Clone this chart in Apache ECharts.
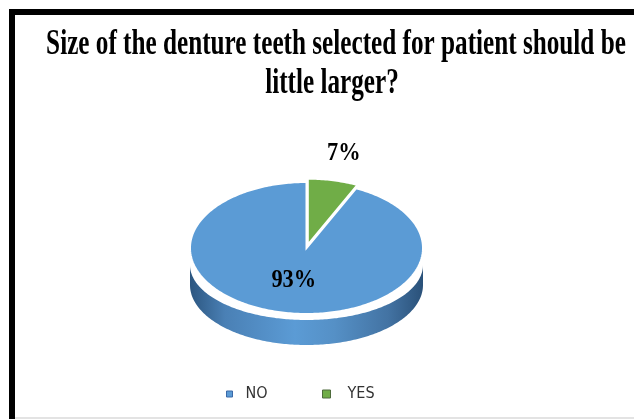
<!DOCTYPE html>
<html>
<head>
<meta charset="utf-8">
<script src="https://cdn.jsdelivr.net/npm/echarts@6/dist/echarts.min.js"></script>
<style>
  html, body { margin: 0; padding: 0; background: #fff; }
  #chart { width: 634px; height: 419px; }
</style>
</head>
<body>
<div id="chart"></div>
<script>
// ---- data ----
const titleLines = ['Size of the denture teeth selected for patient should be', 'little larger?'];
const categories = ['NO', 'YES'];
const shares = [93, 7];
const sliceColors = ['#5b9bd5', '#70ad47'];
const legendBorders = ['#3b69a8', '#4e6b3c'];

// ---- derived values ----
const total = shares.reduce((a, b) => a + b, 0);
const startShare = shares.map((v, i) => shares.slice(0, i).reduce((a, b) => a + b, 0));

// tilted pie: top face ellipse and the two outlines of the visible rim
const CX = 306.5, CY = 248, RX = 116.5, RY = 66;
const RIM_TOP = { cy: 265, ry: 55 };
const RIM_BOTTOM = { cy: 285, ry: 60 };
const EXPLODE = { YES: 6 };

// angle t is measured clockwise from 12 o'clock
function ellPt(t, cy, ry) {
  return [CX + RX * Math.sin(t), cy - ry * Math.cos(t)];
}
function arcPoints(a0, a1, cy, ry) {
  const pts = [];
  const n = Math.max(2, Math.ceil((a1 - a0) / (Math.PI / 180)));
  for (let k = 0; k <= n; k++) {
    pts.push(ellPt(a0 + (a1 - a0) * k / n, cy, ry));
  }
  return pts;
}

const rimGradient = new echarts.graphic.LinearGradient(CX - RX, 0, CX + RX, 0, [
  { offset: 0, color: '#2c5680' },
  { offset: 0.15, color: '#4a80b5' },
  { offset: 0.45, color: '#5b9bd5' },
  { offset: 0.62, color: '#5590c6' },
  { offset: 0.85, color: '#4373a3' },
  { offset: 1, color: '#2a5179' }
], true);

// slices are laid out counter-clockwise from 12 o'clock
function renderSlice(idx) {
  return function (params, api) {
    const v = api.value(0);
    const a1 = 2 * Math.PI - startShare[idx] / total * 2 * Math.PI;
    const a0 = a1 - v / total * 2 * Math.PI;
    const mid = (a0 + a1) / 2;
    const e = EXPLODE[categories[idx]] || 0;
    const dx = e * Math.sin(mid), dy = -e * Math.cos(mid) * RY / RX;
    const children = [];
    // front rim (only the part of the slice facing the viewer)
    const f0 = Math.max(a0, Math.PI / 2), f1 = Math.min(a1, 1.5 * Math.PI);
    if (f1 > f0) {
      const up = arcPoints(f0, f1, RIM_TOP.cy, RIM_TOP.ry);
      const lo = arcPoints(f0, f1, RIM_BOTTOM.cy, RIM_BOTTOM.ry).reverse();
      children.push({ type: 'polygon', shape: { points: up.concat(lo) }, style: { fill: rimGradient } });
    }
    // top face
    const top = [[CX, CY]].concat(arcPoints(a0, a1, CY, RY));
    children.push({
      type: 'polygon', shape: { points: top },
      style: { fill: sliceColors[idx], stroke: '#ffffff', lineWidth: 2, lineJoin: 'miter' }
    });
    // percentage label
    const share = v / total;
    const f = share < 0.15 ? 1.47 : 0.5;
    children.push({
      type: 'text',
      x: CX + RX * Math.sin(mid) * f - dx,
      y: CY - RY * Math.cos(mid) * f - dy,
      scaleX: 0.86,
      style: {
        text: Math.round(share * 100) + '%',
        font: 'bold 26px "Liberation Serif", "Times New Roman", serif',
        fill: '#000',
        textAlign: 'center',
        textVerticalAlign: 'middle'
      }
    });
    return { type: 'group', x: dx, y: dy, children: children };
  };
}

const chart = echarts.init(document.getElementById('chart'), null, { renderer: 'canvas' });

const legendText = {
  fontFamily: '"Liberation Sans Narrow", "DejaVu Sans Condensed", "Liberation Sans", sans-serif',
  fontSize: 16,
  color: '#333'
};

chart.setOption({
  backgroundColor: '#ffffff',
  animation: false,
  legend: [
    {
      data: [{ name: categories[0], icon: 'rect', itemStyle: { borderColor: legendBorders[0], borderWidth: 1 } }],
      left: 226, top: 386, padding: 0, itemWidth: 6, itemHeight: 6, selectedMode: false,
      textStyle: Object.assign({ padding: [0, 0, 0, 8] }, legendText)
    },
    {
      data: [{ name: categories[1], icon: 'rect', itemStyle: { borderColor: legendBorders[1], borderWidth: 1 } }],
      left: 322, top: 386, padding: 0, itemWidth: 8, itemHeight: 8, selectedMode: false,
      textStyle: Object.assign({ padding: [0, 0, 0, 12] }, legendText)
    }
  ],
  graphic: [
    { type: 'rect', shape: { x: 9, y: 9, width: 625, height: 6 }, style: { fill: '#000' } },
    { type: 'rect', shape: { x: 9, y: 9, width: 6, height: 410 }, style: { fill: '#000' } },
    { type: 'rect', shape: { x: 15, y: 417, width: 619, height: 2 }, style: { fill: '#e3e3e3' } },
    {
      type: 'text', x: 336, y: 45, scaleX: 0.7,
      style: {
        text: titleLines[0], font: 'bold 36px "Liberation Serif", "Times New Roman", serif',
        fill: '#000', textAlign: 'center', textVerticalAlign: 'middle'
      }
    },
    {
      type: 'text', x: 332, y: 84, scaleX: 0.7,
      style: {
        text: titleLines[1], font: 'bold 36px "Liberation Serif", "Times New Roman", serif',
        fill: '#000', textAlign: 'center', textVerticalAlign: 'middle'
      }
    }
  ],
  series: categories.map((name, i) => ({
    type: 'custom',
    name: name,
    coordinateSystem: 'none',
    data: [shares[i]],
    itemStyle: { color: sliceColors[i] },
    silent: true,
    renderItem: renderSlice(i)
  }))
});
</script>
</body>
</html>
